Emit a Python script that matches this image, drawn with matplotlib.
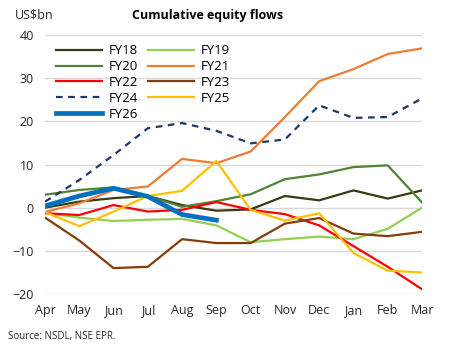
import matplotlib.pyplot as plt

plt.rcParams['font.family'] = ['Open Sans', 'DejaVu Sans']

months = ["Apr", "May", "Jun", "Jul", "Aug", "Sep",
          "Oct", "Nov", "Dec", "Jan", "Feb", "Mar"]

fy18 = [0.0, 1.4, 2.2, 2.7, 0.6, -0.7, -0.4, 2.7, 1.7, 4.0, 2.1, 4.0]
fy19 = [-1.2, -2.3, -3.1, -2.8, -2.6, -4.1, -8.0, -7.3, -6.7, -7.3, -4.9, 0.0]
fy20 = [3.0, 4.1, 4.7, 2.7, 0.2, 1.5, 3.1, 6.6, 7.7, 9.4, 9.8, 1.2]
fy21 = [-1.0, 1.0, 4.1, 4.9, 11.3, 10.3, 13.0, 21.0, 29.3, 32.1, 35.6, 36.9]
fy22 = [-1.3, -1.7, 0.6, -0.9, -0.5, 1.3, -0.5, -1.5, -4.1, -8.9, -13.7, -18.9]
fy23 = [-2.3, -7.6, -14.0, -13.7, -7.3, -8.2, -8.2, -3.7, -2.4, -6.0, -6.6, -5.6]
fy24 = [1.4, 6.4, 12.2, 18.4, 19.6, 17.8, 14.9, 15.8, 23.7, 20.8, 21.0, 25.3]
fy25 = [-1.0, -4.3, -0.9, 2.7, 3.9, 10.8, -0.5, -3.0, -1.3, -10.5, -14.6, -15.0]
fy26 = [0.4, 2.7, 4.5, 2.6, -1.6, -2.9]

x = list(range(len(months)))

fig = plt.figure(figsize=(4.49, 3.52), dpi=100)
ax = fig.add_axes([45/449, 1 - 294/352, 377/449, 259/352])

l18, = ax.plot(x, fy18, color='#3a3a10', lw=1.6, label='FY18')
l19, = ax.plot(x, fy19, color='#92d050', lw=1.6, label='FY19')
l20, = ax.plot(x, fy20, color='#548235', lw=1.6, label='FY20')
l21, = ax.plot(x, fy21, color='#ed7d31', lw=1.6, label='FY21')
l22, = ax.plot(x, fy22, color='#ff0000', lw=1.6, label='FY22')
l23, = ax.plot(x, fy23, color='#843c0c', lw=1.6, label='FY23')
l24, = ax.plot(x, fy24, color='#203864', lw=1.6, ls=(0, (3, 2.5)), label='FY24')
l25, = ax.plot(x, fy25, color='#ffc000', lw=1.6, label='FY25')
l26, = ax.plot(x[:len(fy26)], fy26, color='#0070c0', lw=3.4, label='FY26')

ax.set_xlim(0, 11)
ax.set_ylim(-20, 40)
ax.set_yticks([-20, -10, 0, 10, 20, 30, 40])
ax.set_xticks(x)
ax.set_xticklabels(months)
ax.tick_params(length=0, labelsize=9, colors='#262626')
ax.tick_params(axis='y', pad=8)
ax.tick_params(axis='x', pad=7)
ax.grid(axis='y', color='#d9d9d9', lw=1)
ax.set_axisbelow(True)
for s in ax.spines.values():
    s.set_visible(False)

# row-major order like the original: left column 18,20,22,24,26
handles = [l18, l20, l22, l24, l26, l19, l21, l23, l25]
ax.legend(handles=handles, ncol=2, loc='upper left',
          bbox_to_anchor=(0.005, 1.0),
          frameon=False, fontsize=9.5, handlelength=3.5,
          labelspacing=0.22, columnspacing=0.7, borderaxespad=0.3,
          handletextpad=0.5)

fig.text(15/449, 1 - 15/352, "US$bn", fontsize=9, va='center', color='#262626')
fig.text(208/449, 1 - 15/352, "Cumulative equity flows", fontsize=9,
         fontweight='bold', ha='center', va='center')
fig.text(8/449, 1 - 337/352, "Source: NSDL, NSE EPR.", fontsize=7,
         va='center', color='#262626')

fig.savefig("out.png", dpi=100)
